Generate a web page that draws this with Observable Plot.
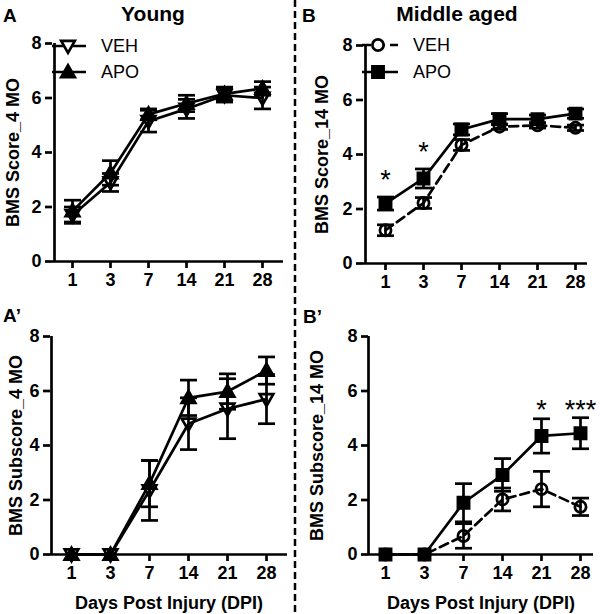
<!DOCTYPE html>
<html><head><meta charset="utf-8">
<script src="https://cdn.jsdelivr.net/npm/d3@7"></script>
<script src="https://cdn.jsdelivr.net/npm/@observablehq/plot@0.6"></script>
<style>
body{margin:0;background:#fff;}
#root{position:relative;width:600px;height:614px;font-family:"Liberation Sans",Arial,sans-serif;color:#000;overflow:hidden;background:#fff}
#root > svg, #root > figure{position:absolute;margin:0}
#root g[aria-label="x-axis tick"], #root g[aria-label="y-axis tick"]{stroke-width:2.7px}
</style></head><body><div id="root"></div>
<script>
// ---- data ----
const days = ["1","3","7","14","21","28"];
const yTicks = [0, 2, 4, 6, 8];

const youngScoreVEH    = [1.70, 2.90, 5.15, 5.60, 6.10, 6.00];
const youngScoreVEHErr = [0.30, 0.33, 0.40, 0.35, 0.25, 0.40];
const youngScoreAPO    = [1.85, 3.25, 5.40, 5.80, 6.15, 6.35];
const youngScoreAPOErr = [0.40, 0.45, 0.20, 0.30, 0.25, 0.25];

const midScoreVEH    = [1.22, 2.22, 4.35, 5.02, 5.07, 4.98];
const midScoreVEHErr = [0.20, 0.20, 0.20, 0.10, 0.10, 0.10];
const midScoreAPO    = [2.20, 3.12, 4.92, 5.30, 5.30, 5.50];
const midScoreAPOErr = [0.24, 0.35, 0.20, 0.20, 0.15, 0.17];

const youngSubVEH    = [0, 0, 2.35, 4.80, 5.35, 5.70];
const youngSubVEHErr = [0, 0, 1.10, 0.95, 1.10, 0.90];
const youngSubAPO    = [0, 0, 2.60, 5.75, 5.98, 6.75];
const youngSubAPOErr = [0, 0, 0.85, 0.65, 0.65, 0.50];

const midSubVEH    = [0, 0, 0.68, 2.02, 2.40, 1.75];
const midSubVEHErr = [0, 0, 0.45, 0.42, 0.65, 0.32];
const midSubAPO    = [0, 0, 1.90, 2.92, 4.35, 4.45];
const midSubAPOErr = [0, 0, 0.70, 0.60, 0.63, 0.57];

const midScoreStars = [{day: "1", y: 3.05, label: "*"}, {day: "3", y: 4.07, label: "*"}];
const midSubStars   = [{day: "21", y: 5.28, label: "*"}, {day: "28", y: 5.28, label: "***"}];

const seriesNames = ["VEH", "APO"];

// ---- symbols ----
const rad = s => Math.sqrt(s / Math.PI);
const capSym = {draw(c, s){const r = rad(s); c.moveTo(-r,0); c.lineTo(r,0);}};
const triDown = {draw(c, s){const r = rad(s); c.moveTo(-r,-0.75*r); c.lineTo(r,-0.75*r); c.lineTo(0,r); c.closePath();}};
const triUp = {draw(c, s){const r = rad(s); c.moveTo(-r,0.75*r); c.lineTo(r,0.75*r); c.lineTo(0,-r); c.closePath();}};
const squareSym = {draw(c, s){const r = rad(s); c.rect(-r,-r,2*r,2*r);}};
const circleSym = {draw(c, s){const r = rad(s); c.moveTo(r,0); c.arc(0,0,r,0,2*Math.PI);}};

const SW = 2.7;
const FONT = '"Liberation Sans", Arial, sans-serif';

const youngStyle = [
  {symbol: triDown, r: 6.8, fill: "none", dash: null},
  {symbol: triUp, r: 6.8, fill: "black", dash: null}
];
const midStyle = [
  {symbol: circleSym, r: 5.6, fill: "none", dash: "9,5"},
  {symbol: squareSym, r: 5.6, fill: "black", dash: null}
];

function panel(cfg) {
  const series = cfg.vals.map((vals, k) => ({
    data: days.map((d, i) => ({day: d, v: vals[i], e: cfg.errs[k][i]})),
    st: cfg.styles[k]
  }));
  const marks = [];
  // axis lines
  marks.push(Plot.ruleY([0], {stroke: "black", strokeWidth: SW}));
  marks.push(Plot.ruleX([days[0]], {y1: 0, y2: 8, dx: cfg.ml - cfg.xRange[0], stroke: "black", strokeWidth: SW}));
  marks.push(Plot.axisY({ticks: yTicks, tickSize: 7, tickPadding: 4, strokeWidth: SW, fontSize: 18,
    label: cfg.ylabel, labelAnchor: "center", labelOffset: cfg.ylo, labelArrow: "none"}));
  marks.push(Plot.axisX({tickSize: 7, tickPadding: 5, strokeWidth: SW, fontSize: 18,
    label: cfg.xlabel ?? null, labelAnchor: "center", labelOffset: cfg.xlo ?? 0, labelArrow: "none"}));
  for (const s of series) {
    marks.push(Plot.line(s.data, {x: "day", y: "v", stroke: "black", strokeWidth: SW, strokeDasharray: s.st.dash}));
  }
  for (const s of series) {
    const eb = s.data.filter(d => d.e > 0);
    marks.push(Plot.ruleX(eb, {x: "day", y1: d => d.v - d.e, y2: d => d.v + d.e, stroke: "black", strokeWidth: SW}));
    const caps = eb.flatMap(d => [{day: d.day, y: d.v - d.e}, {day: d.day, y: d.v + d.e}]);
    marks.push(Plot.dot(caps, {x: "day", y: "y", symbol: capSym, r: 8.5, stroke: "black", strokeWidth: SW}));
  }
  for (const s of series) {
    marks.push(Plot.dot(s.data, {x: "day", y: "v", symbol: s.st.symbol, r: s.st.r, fill: s.st.fill, stroke: "black", strokeWidth: SW}));
  }
  if (cfg.stars) {
    marks.push(Plot.text(cfg.stars, {x: "day", y: "y", text: "label", fontSize: 27, fontWeight: "normal", fill: "black"}));
  }
  const svg = Plot.plot({
    width: cfg.w, height: cfg.h,
    marginLeft: cfg.ml, marginRight: cfg.mr, marginTop: cfg.mt, marginBottom: cfg.mb,
    x: {type: "point", domain: days, range: cfg.xRange, padding: 0},
    y: {domain: [0, 8]},
    style: {fontFamily: FONT, fontSize: "18px", fontWeight: "bold", color: "black", background: "transparent", overflow: "visible"},
    marks
  });
  svg.style.left = cfg.left + "px";
  svg.style.top = cfg.top + "px";
  return svg;
}

const root = document.getElementById("root");
root.appendChild(panel({left: 0, top: 30, w: 295, h: 270, ml: 52, mr: 12, mt: 13, mb: 39, xRange: [70, 264],
  ylabel: "BMS Score_4 MO", ylo: 46, vals: [youngScoreVEH, youngScoreAPO], errs: [youngScoreVEHErr, youngScoreAPOErr], styles: youngStyle}));
root.appendChild(panel({left: 300, top: 30, w: 300, h: 270, ml: 63, mr: 13, mt: 15, mb: 37, xRange: [83, 277],
  ylabel: "BMS Score_14 MO", ylo: 48, vals: [midScoreVEH, midScoreAPO], errs: [midScoreVEHErr, midScoreAPOErr], styles: midStyle, stars: midScoreStars}));
root.appendChild(panel({left: 0, top: 300, w: 295, h: 314, ml: 50, mr: 8, mt: 36, mb: 60, xRange: [70, 267],
  ylabel: "BMS Subscore_4 MO", ylo: 41, xlabel: "Days Post Injury (DPI)", xlo: 54,
  vals: [youngSubVEH, youngSubAPO], errs: [youngSubVEHErr, youngSubAPOErr], styles: youngStyle}));
root.appendChild(panel({left: 300, top: 300, w: 300, h: 314, ml: 68, mr: 7, mt: 36, mb: 60, xRange: [85, 280],
  ylabel: "BMS Subscore_14 MO", ylo: 58, xlabel: "Days Post Injury (DPI)", xlo: 54,
  vals: [midSubVEH, midSubAPO], errs: [midSubVEHErr, midSubAPOErr], styles: midStyle, stars: midSubStars}));

// ---- overlay: divider, panel letters, titles, legends ----
const ov = d3.select(root).append("svg").attr("width", 600).attr("height", 614)
  .style("left", "0px").style("top", "0px").style("pointer-events", "none")
  .attr("font-family", FONT);
ov.append("line").attr("x1", 295).attr("x2", 295).attr("y1", 0).attr("y2", 614)
  .attr("stroke", "black").attr("stroke-width", 2.5).attr("stroke-dasharray", "7,4");
const titles = [
  {t: "A", x: 3, y: 22, size: 19, anchor: "start"},
  {t: "Young", x: 153, y: 21, size: 21, anchor: "middle"},
  {t: "B", x: 302, y: 22, size: 19, anchor: "start"},
  {t: "Middle aged", x: 457, y: 21, size: 21, anchor: "middle"},
  {t: "A\u2019", x: 3, y: 322, size: 19, anchor: "start"},
  {t: "B\u2019", x: 303, y: 323, size: 19, anchor: "start"}
];
for (const t of titles) {
  ov.append("text").attr("x", t.x).attr("y", t.y).attr("font-size", t.size).attr("font-weight", "bold")
    .attr("text-anchor", t.anchor).text(t.t);
}
function legend(x0, x1, xs, xt, ys, styles) {
  styles.forEach((st, k) => {
    const y = ys[k];
    ov.append("line").attr("x1", x0).attr("x2", x1).attr("y1", y).attr("y2", y)
      .attr("stroke", "black").attr("stroke-width", SW).attr("stroke-dasharray", st.dash);
    ov.append("path").attr("transform", `translate(${xs},${y})`)
      .attr("d", d3.symbol().type(st.symbol).size(st.r * st.r * Math.PI)())
      .attr("fill", st.fill === "none" ? "white" : st.fill).attr("stroke", "black").attr("stroke-width", SW);
    ov.append("text").attr("x", xt).attr("y", y).attr("dy", "0.36em").attr("font-size", 18).text(seriesNames[k]);
  });
}
legend(52, 86, 68, 101, [46, 72], youngStyle);
legend(362, 398, 378, 413, [45, 72], midStyle);
</script></body></html>
